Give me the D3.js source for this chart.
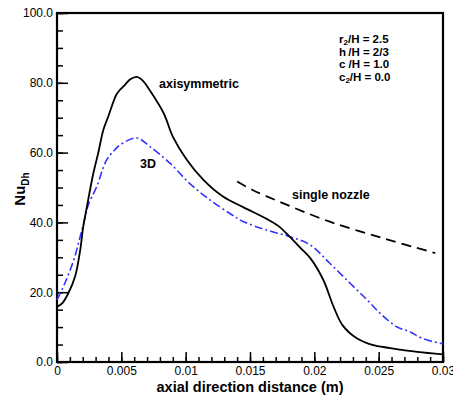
<!DOCTYPE html>
<html lang="en">
<head>
<meta charset="UTF-8">
<title>Nu vs axial distance</title>
<script src="https://d3js.org/d3.v7.min.js"></script>
<style>
  body { margin: 0; background: #fff; }
  text { font-family: Arial, "Liberation Sans", sans-serif; fill: #000; }
</style>
</head>
<body>
<svg id="chart" width="453" height="398"></svg>
<script>
// axisymmetric case (black solid)
var axiX = [0, 0.0004, 0.00088, 0.0014, 0.0018, 0.00204, 0.0023, 0.00282, 0.0032, 0.0036, 0.004, 0.0046, 0.0049,
  0.0053, 0.0057, 0.0062, 0.0067, 0.0072, 0.0083, 0.009, 0.0101, 0.0114, 0.0129, 0.0145, 0.0163, 0.0172,
  0.018, 0.0189, 0.0197, 0.0207, 0.0215, 0.0222, 0.0233, 0.0245, 0.0259, 0.028, 0.03]
var axiNu = [15.8, 16.8, 19.7, 24.4, 32, 38.8, 44, 54, 59.8, 66.5, 70.5, 76.5, 78,
  79.5, 81, 81.7, 80.5, 77.9, 71.2, 64.6, 57.9, 52.1, 47.4, 44.3, 41, 39,
  36.2, 32.8, 29.7, 23.5, 15.8, 10.5, 6.8, 4.9, 4, 2.9, 2.2]

// 3D case (blue dash-dot)
var d3X = [0, 0.0006, 0.0013, 0.0018, 0.0022, 0.00243, 0.00308, 0.00386, 0.0045, 0.0049, 0.0062, 0.0072, 0.0088,
  0.0103, 0.0119, 0.0135, 0.0145, 0.0163, 0.0181, 0.0197, 0.0212, 0.0228, 0.0241, 0.0251, 0.0264, 0.0274, 0.0285, 0.03]
var d3Nu = [17.8, 22.5, 29.2, 35.9, 41.6, 45, 50.2, 57.9, 60.8, 62.2, 64.2, 61.8, 56.9,
  51.2, 46.4, 42.4, 40.2, 37.8, 35.9, 33.5, 28.3, 22.5, 17.8, 14, 10.1, 8.7, 6.6, 5.2]

// single nozzle (black dashed)
var singleX = [0.014, 0.0152, 0.0175, 0.0212, 0.0255, 0.0294]
var singleNu = [51.7, 49.3, 45.6, 40.2, 35.3, 31.2]

var xTicks = [0, 0.005, 0.01, 0.015, 0.02, 0.025, 0.03]
var xTickLabels = ["0", "0.005", "0.01", "0.015", "0.02", "0.025", "0.03"]
var yTicks = [0, 20, 40, 60, 80, 100]
var params = ["r|2|/H = 2.5", "h| |/H = 2/3", "c /H = 1.0", "c|2|/H = 0.0"]

var svg = d3.select("#chart")
var x = d3.scaleLinear().domain([0, 0.03]).range([57, 443])
var y = d3.scaleLinear().domain([0, 100]).range([362, 13])

// minor ticks
var xMinor = d3.range(0, 31).map(function(i) { return i * 0.001 })
var yMinor = d3.range(0, 21).map(function(i) { return i * 5 })

var xAxis = d3.axisBottom(x).tickValues(xMinor).tickSize(-5).tickFormat("")
svg.append("g").attr("transform", "translate(0,362)").call(xAxis)
var xAxisMaj = d3.axisBottom(x).tickValues(xTicks).tickSize(-10).tickPadding(4)
  .tickFormat(function(d, i) { return xTickLabels[i] })
svg.append("g").attr("transform", "translate(0,362)").call(xAxisMaj)

var yAxis = d3.axisLeft(y).tickValues(yMinor).tickSize(-6).tickFormat("")
svg.append("g").attr("transform", "translate(57,0)").call(yAxis)
var yAxisMaj = d3.axisLeft(y).tickValues(yTicks).tickSize(-11).tickPadding(4).tickFormat(d3.format(".1f"))
svg.append("g").attr("transform", "translate(57,0)").call(yAxisMaj)

svg.selectAll(".domain").remove()
svg.selectAll(".tick line").attr("stroke", "#000").attr("stroke-width", 1.5)
svg.selectAll(".tick text").attr("font-size", 12).attr("font-family", "Arial, 'Liberation Sans', sans-serif")

// frame
svg.append("rect").attr("x", 57).attr("y", 13).attr("width", 386).attr("height", 349)
  .attr("fill", "none").attr("stroke", "#000").attr("stroke-width", 2.2)

var line = d3.line()
  .x(function(d) { return x(d[0]) })
  .y(function(d) { return y(d[1]) })
  .curve(d3.curveCatmullRom.alpha(0.5))

svg.append("path").datum(d3.zip(singleX, singleNu)).attr("d", line)
  .attr("fill", "none").attr("stroke", "#000").attr("stroke-width", 1.8)
  .attr("stroke-dasharray", "10,6")
svg.append("path").datum(d3.zip(d3X, d3Nu)).attr("d", line)
  .attr("fill", "none").attr("stroke", "#3333ff").attr("stroke-width", 1.6)
  .attr("stroke-dasharray", "8,3,2,3")
svg.append("path").datum(d3.zip(axiX, axiNu)).attr("d", line)
  .attr("fill", "none").attr("stroke", "#000").attr("stroke-width", 1.8)

// curve labels
svg.append("text").attr("x", 159).attr("y", 88).attr("font-size", 12.5).attr("font-weight", "bold").text("axisymmetric")
svg.append("text").attr("x", 140).attr("y", 168).attr("font-size", 12.5).attr("font-weight", "bold").text("3D")
svg.append("text").attr("x", 292).attr("y", 199).attr("font-size", 12.5).attr("font-weight", "bold").text("single nozzle")

// parameter block
params.forEach(function(p, i) {
  var parts = p.split("|")
  var t = svg.append("text").attr("x", 339).attr("y", 43 + i * 12.5)
    .attr("font-size", 11.5).attr("font-weight", "bold")
  if (parts.length === 1) {
    t.text(p)
  } else {
    t.append("tspan").text(parts[0])
    t.append("tspan").attr("font-size", 8).attr("dy", 2).text(parts[1])
    t.append("tspan").attr("dy", -2).text(parts[2])
  }
})

// axis titles
svg.append("text").attr("x", 250).attr("y", 392).attr("text-anchor", "middle")
  .attr("font-size", 14.5).attr("font-weight", "bold").text("axial direction distance (m)")

var yl = svg.append("text").attr("transform", "translate(25,189) rotate(-90)")
  .attr("text-anchor", "middle").attr("font-size", 15).attr("font-weight", "bold")
yl.append("tspan").text("Nu")
yl.append("tspan").attr("font-size", 10).attr("dy", 4).text("Dh")
</script>
</body>
</html>
